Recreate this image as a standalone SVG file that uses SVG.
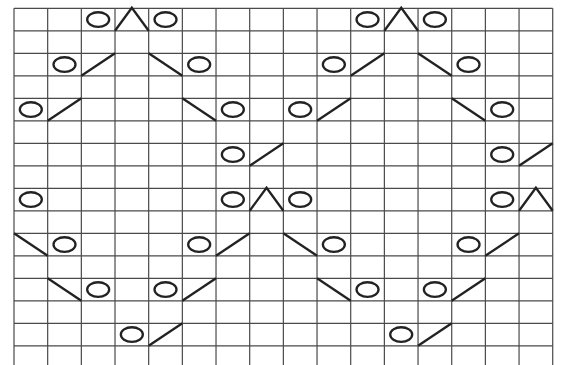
<svg xmlns="http://www.w3.org/2000/svg" xmlns:xlink="http://www.w3.org/1999/xlink" width="562" height="365" viewBox="0 0 562 365">
<style>
.grid{stroke:#4a4a4a;stroke-width:1.2;fill:none}
.sym{stroke:#222;stroke-width:2.3;fill:none;stroke-linecap:butt;stroke-linejoin:miter}
</style>
<defs>
<ellipse id="yo" class="sym" cx="16.83" cy="11.25" rx="11" ry="7.3"/>
<line id="k2" class="sym" x1="0" y1="22.5" x2="33.67" y2="0"/>
<line id="ssk" class="sym" x1="0" y1="0" x2="33.67" y2="22.5"/>
<polyline id="dec" class="sym" points="0,22.5 16.83,-0.6 33.67,22.5"/>
</defs>
<rect width="562" height="365" fill="#fff"/>
<g id="grid" class="grid">
<path d="M14,8.3V365M47.67,8.3V365M81.34,8.3V365M115.01,8.3V365M148.68,8.3V365M182.35,8.3V365M216.02,8.3V365M249.69,8.3V365M283.36,8.3V365M317.03,8.3V365M350.7,8.3V365M384.37,8.3V365M418.04,8.3V365M451.71,8.3V365M485.38,8.3V365M519.05,8.3V365M552.72,8.3V365"/>
<path d="M14,8.3H552.72M14,30.8H552.72M14,53.3H552.72M14,75.8H552.72M14,98.3H552.72M14,120.8H552.72M14,143.3H552.72M14,165.8H552.72M14,188.3H552.72M14,210.8H552.72M14,233.3H552.72M14,255.8H552.72M14,278.3H552.72M14,300.8H552.72M14,323.3H552.72M14,345.8H552.72"/>
</g>
<g id="row0">
<use xlink:href="#yo" x="81.34" y="8.3"/><use xlink:href="#dec" x="115.01" y="8.3"/><use xlink:href="#yo" x="148.68" y="8.3"/>
<use xlink:href="#yo" x="350.7" y="8.3"/><use xlink:href="#dec" x="384.37" y="8.3"/><use xlink:href="#yo" x="418.04" y="8.3"/>
</g>
<g id="row2">
<use xlink:href="#yo" x="47.67" y="53.3"/><use xlink:href="#k2" x="81.34" y="53.3"/><use xlink:href="#ssk" x="148.68" y="53.3"/><use xlink:href="#yo" x="182.35" y="53.3"/>
<use xlink:href="#yo" x="317.03" y="53.3"/><use xlink:href="#k2" x="350.7" y="53.3"/><use xlink:href="#ssk" x="418.04" y="53.3"/><use xlink:href="#yo" x="451.71" y="53.3"/>
</g>
<g id="row4">
<use xlink:href="#yo" x="14" y="98.3"/><use xlink:href="#k2" x="47.67" y="98.3"/><use xlink:href="#ssk" x="182.35" y="98.3"/><use xlink:href="#yo" x="216.02" y="98.3"/>
<use xlink:href="#yo" x="283.36" y="98.3"/><use xlink:href="#k2" x="317.03" y="98.3"/><use xlink:href="#ssk" x="451.71" y="98.3"/><use xlink:href="#yo" x="485.38" y="98.3"/>
</g>
<g id="row6">
<use xlink:href="#yo" x="216.02" y="143.3"/><use xlink:href="#k2" x="249.69" y="143.3"/>
<use xlink:href="#yo" x="485.38" y="143.3"/><use xlink:href="#k2" x="519.05" y="143.3"/>
</g>
<g id="row8">
<use xlink:href="#yo" x="14" y="188.3"/>
<use xlink:href="#yo" x="216.02" y="188.3"/><use xlink:href="#dec" x="249.69" y="188.3"/><use xlink:href="#yo" x="283.36" y="188.3"/>
<use xlink:href="#yo" x="485.38" y="188.3"/><use xlink:href="#dec" x="519.05" y="188.3"/>
</g>
<g id="row10">
<use xlink:href="#ssk" x="14" y="233.3"/><use xlink:href="#yo" x="47.67" y="233.3"/>
<use xlink:href="#yo" x="182.35" y="233.3"/><use xlink:href="#k2" x="216.02" y="233.3"/>
<use xlink:href="#ssk" x="283.36" y="233.3"/><use xlink:href="#yo" x="317.03" y="233.3"/>
<use xlink:href="#yo" x="451.71" y="233.3"/><use xlink:href="#k2" x="485.38" y="233.3"/>
</g>
<g id="row12">
<use xlink:href="#ssk" x="47.67" y="278.3"/><use xlink:href="#yo" x="81.34" y="278.3"/>
<use xlink:href="#yo" x="148.68" y="278.3"/><use xlink:href="#k2" x="182.35" y="278.3"/>
<use xlink:href="#ssk" x="317.03" y="278.3"/><use xlink:href="#yo" x="350.7" y="278.3"/>
<use xlink:href="#yo" x="418.04" y="278.3"/><use xlink:href="#k2" x="451.71" y="278.3"/>
</g>
<g id="row14">
<use xlink:href="#yo" x="115.01" y="323.3"/><use xlink:href="#k2" x="148.68" y="323.3"/>
<use xlink:href="#yo" x="384.37" y="323.3"/><use xlink:href="#k2" x="418.04" y="323.3"/>
</g>
</svg>
